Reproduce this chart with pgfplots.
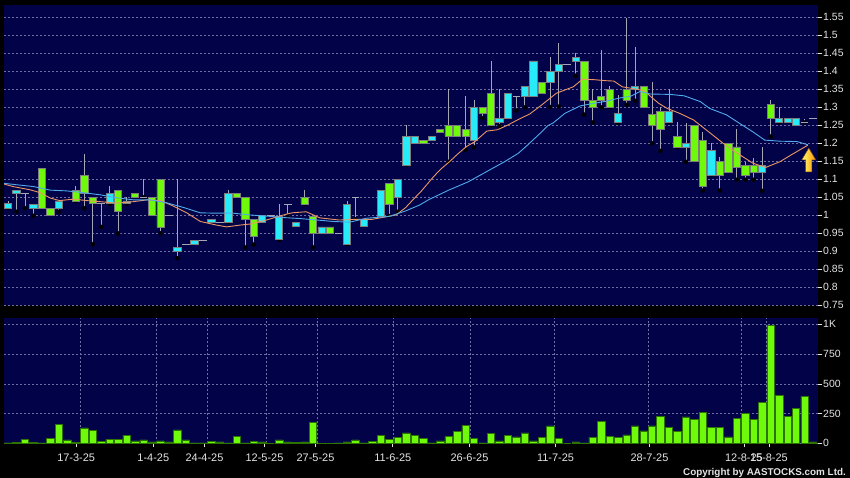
\documentclass[border=0pt]{standalone}
\usepackage{fontspec}
\setmainfont{Liberation Sans}
\usepackage{pgfplots}
\pgfplotsset{compat=1.18}
\usepackage{pgfplotstable}

\definecolor{navy}{RGB}{2,2,72}
\definecolor{gridc}{RGB}{110,110,165}
\definecolor{cyanc}{RGB}{40,235,250}
\definecolor{greenc}{RGB}{110,250,10}
\definecolor{bordc}{RGB}{125,125,125}
\definecolor{wickc}{RGB}{165,165,180}
\definecolor{maO}{RGB}{235,150,100}
\definecolor{maB}{RGB}{80,170,235}
\definecolor{labc}{RGB}{228,228,228}
\definecolor{vbord}{RGB}{45,115,0}

% candle bodies (cyan)
\pgfplotstableread{
k bl bh
0 1.019 1.031
1 1.060 1.069
3 1.019 1.029
6 1.019 1.039
12 1.031 1.060
14 1.031 1.039
20 0.899 0.910
22 0.919 0.930
24 0.980 0.988
26 0.980 1.060
30 0.980 0.998
32 0.931 0.997
34 0.969 0.980
37 0.949 0.967
40 0.919 1.030
42 0.969 0.988
44 0.997 1.069
46 1.049 1.099
47 1.139 1.218
48 1.199 1.218
50 1.208 1.219
55 1.208 1.299
58 1.258 1.269
59 1.269 1.338
61 1.329 1.358
62 1.329 1.428
64 1.368 1.398
65 1.398 1.418
67 1.427 1.438
72 1.256 1.281
74 1.349 1.356
78 1.258 1.287
80 1.188 1.199
83 1.111 1.180
89 1.119 1.137
91 1.258 1.268
92 1.258 1.268
93 1.249 1.268
}\cyanT

% candle bodies (green)
\pgfplotstableread{
k bl bh
4 1.019 1.130
5 1.000 1.019
8 1.039 1.069
9 1.060 1.111
10 1.031 1.049
13 1.009 1.068
15 1.049 1.060
17 1.000 1.049
18 0.967 1.099
27 1.049 1.060
28 0.988 1.049
29 0.941 0.988
35 1.030 1.049
36 0.949 0.997
38 0.949 0.967
45 1.030 1.088
49 1.199 1.208
51 1.229 1.238
52 1.219 1.249
53 1.219 1.249
54 1.219 1.238
56 1.281 1.299
57 1.249 1.338
63 1.338 1.368
68 1.318 1.427
69 1.299 1.318
70 1.318 1.329
71 1.299 1.349
73 1.319 1.349
75 1.299 1.356
76 1.249 1.280
77 1.239 1.287
79 1.188 1.219
81 1.148 1.249
82 1.080 1.208
84 1.111 1.148
85 1.119 1.199
86 1.131 1.189
87 1.110 1.137
88 1.119 1.137
90 1.268 1.308
}\greenT

% open = close days
\pgfplotstableread{
k p
2 1.060
11 1.031
16 1.049
19 1.000
21 0.919
23 0.930
25 0.980
31 0.998
33 1.030
39 0.949
41 1.049
60 1.329
66 1.418
94 1.257
95 1.268
}\dojiT

% wicks: low and high
\pgfplotstableread{
k lo hi
0 1.019 1.039
1 1.009 1.069
2 1.019 1.060
3 0.998 1.029
6 1.009 1.039
8 1.039 1.081
9 1.019 1.169
10 0.919 1.049
11 0.967 1.031
12 1.031 1.081
13 0.949 1.068
14 1.031 1.049
16 1.049 1.099
18 0.949 1.099
20 0.880 1.099
26 0.980 1.069
28 0.910 1.049
29 0.918 0.988
32 0.931 1.030
33 0.997 1.030
35 1.030 1.069
36 0.910 0.997
40 0.919 1.039
41 0.988 1.049
45 0.997 1.088
46 1.009 1.099
47 1.139 1.250
52 1.148 1.349
54 1.181 1.331
55 1.188 1.319
56 1.269 1.299
57 1.249 1.428
58 1.247 1.349
60 1.290 1.329
61 1.299 1.358
64 1.300 1.440
65 1.301 1.477
67 1.387 1.450
68 1.279 1.427
69 1.257 1.349
70 1.299 1.458
71 1.299 1.358
72 1.256 1.333
73 1.306 1.546
74 1.317 1.467
76 1.199 1.370
77 1.178 1.301
78 1.258 1.349
79 1.188 1.257
80 1.148 1.256
82 1.068 1.231
83 1.111 1.200
84 1.068 1.160
86 1.098 1.238
87 1.098 1.148
88 1.098 1.157
89 1.067 1.189
90 1.218 1.319
91 1.258 1.301
94 1.257 1.268
}\wickT

% short moving average (orange)
\pgfplotstableread{
k v
-0.47 1.086
0.6 1.079
2.6 1.070
3.8 1.062
5.0 1.047
6.1 1.040
7.7 1.044
9.3 1.040
10.9 1.037
12.8 1.033
14.8 1.037
16.4 1.042
18.0 1.040
19.5 1.025
21.1 1.006
22.7 0.982
24.6 0.972
25.8 0.967
27.4 0.972
28.6 0.975
30.5 0.986
32.5 1.000
33.5 1.006
35.2 1.009
36.8 0.992
39.1 0.986
41.1 0.988
43.0 0.988
44.6 0.995
45.8 1.000
46.9 1.020
47.7 1.040
48.8 1.067
50.2 1.106
51.1 1.128
52.1 1.148
53.1 1.170
54.1 1.190
55.1 1.204
56.5 1.233
57.8 1.237
59.0 1.250
60.2 1.265
61.6 1.281
63.0 1.306
64.7 1.338
66.7 1.356
67.8 1.377
69.1 1.376
70.6 1.373
71.5 1.372
72.5 1.356
73.8 1.351
75.1 1.345
75.8 1.330
76.8 1.310
77.8 1.296
79.3 1.282
80.9 1.264
82.8 1.229
84.4 1.199
86.1 1.171
87.9 1.144
89.4 1.132
91.1 1.148
92.5 1.168
94.4 1.194
}\maOT

% long moving average (blue)
\pgfplotstableread{
k v
-0.47 1.088
1.4 1.083
3.0 1.079
5.0 1.069
6.9 1.067
8.9 1.062
10.9 1.056
12.8 1.048
14.8 1.042
16.8 1.042
18.7 1.034
20.7 1.021
22.7 1.006
24.6 1.005
26.6 1.005
28.6 1.000
30.5 0.997
32.5 0.993
34.5 0.990
36.5 0.986
38.4 0.982
40.3 0.980
42.3 0.991
45.0 0.996
46.9 1.011
47.7 1.019
48.6 1.028
49.6 1.042
52.0 1.069
54.3 1.092
56.6 1.122
58.6 1.148
60.2 1.171
61.4 1.196
62.8 1.227
63.7 1.248
64.3 1.255
65.7 1.282
67.5 1.303
69.1 1.310
70.6 1.316
72.2 1.325
73.5 1.330
74.6 1.343
75.8 1.336
78.1 1.335
79.8 1.331
81.7 1.315
82.8 1.296
84.8 1.278
86.3 1.255
87.9 1.231
89.3 1.208
91.1 1.205
93.1 1.204
94.4 1.195
}\maBT

% volume
\pgfplotstableread{
k v
0 3
1 8
2 36
3 8
4 3
5 42
6 160
7 28
8 8
9 129
10 109
11 14
12 36
13 36
14 67
15 20
16 28
17 11
18 20
19 11
20 112
21 28
22 3
23 3
24 17
25 11
26 3
27 59
28 3
29 17
30 11
31 0
32 28
33 11
34 8
35 11
36 176
37 0
38 0
39 3
40 11
41 28
42 3
43 14
44 64
45 34
46 50
47 87
48 67
49 42
50 3
51 20
52 56
53 98
54 151
55 39
56 3
57 81
58 20
59 64
60 53
61 87
62 20
63 48
64 146
65 42
66 0
67 11
68 3
69 50
70 185
71 59
72 48
73 70
74 146
75 104
76 146
77 224
78 134
79 101
80 222
81 202
82 260
83 134
84 134
85 53
86 210
87 252
88 202
89 347
90 992
91 400
92 224
93 291
94 393
95 12
}\volT

\pgfplotsset{
  pricebase/.style={scale only axis, width=814bp, height=300bp,
    at={(4bp,173bp)}, anchor=south west,
    xmin=-0.47, xmax=95.59, ymin=0.75, ymax=1.5833},
}

\begin{document}
\begin{tikzpicture}
\fill[black] (0,0) rectangle (850bp,478bp);

% ---------- price panel: background, grid, wicks
\begin{axis}[pricebase,
  axis background/.style={fill=navy},
  axis line style={draw=none},
  xtick=\empty,
  minor xtick={8.5,17.5,23.5,30.5,36.5,45.5,54.5,64.5,75.5,86.5,89.5},
  xminorgrids, minor tick length=0pt,
  ytick={0.75,0.8,0.85,0.9,0.95,1,1.05,1.1,1.15,1.2,1.25,1.3,1.35,1.4,1.45,1.5,1.55},
  yticklabels={0.75,0.8,0.85,0.9,0.95,1,1.05,1.1,1.15,1.2,1.25,1.3,1.35,1.4,1.45,1.5,1.55},
  ytick pos=right, yticklabel pos=right,
  ymajorgrids,
  grid style={gridc, dash pattern=on 2bp off 2bp, line width=0.5bp},
  minor grid style={gridc, dash pattern=on 2bp off 2bp, line width=0.5bp},
  tick align=outside, major tick length=4bp,
  tick style={labc, line width=0.6bp},
  yticklabel style={font=\fontsize{10.5}{12}\selectfont, text=labc, anchor=west, inner sep=0pt, xshift=1bp},
]
\addplot[only marks, mark=none,
  error bars/.cd, y dir=plus, y explicit, error mark=none,
  error bar style={draw=wickc, line width=0.8bp}]
  table[x=k, y=lo, y error expr=\thisrow{hi}-\thisrow{lo}] {\wickT};
\end{axis}

% ---------- cyan bodies
\begin{axis}[pricebase, hide axis, ybar stacked, bar width=0.86]
\addplot[draw=none, fill=none] table[x=k, y=bl] {\cyanT};
\addplot[fill=cyanc, draw=bordc, line width=0.7bp] table[x=k, y expr=\thisrow{bh}-\thisrow{bl}] {\cyanT};
\end{axis}

% ---------- green bodies
\begin{axis}[pricebase, hide axis, ybar stacked, bar width=0.86]
\addplot[draw=none, fill=none] table[x=k, y=bl] {\greenT};
\addplot[fill=greenc, draw=bordc, line width=0.7bp] table[x=k, y expr=\thisrow{bh}-\thisrow{bl}] {\greenT};
\end{axis}

% ---------- doji, moving averages, arrow
\begin{axis}[pricebase, hide axis]
\addplot[only marks, mark=-, mark size=3.9bp, mark options={draw=wickc, line width=0.9bp}] table[x=k, y=p] {\dojiT};
\addplot[maO, line width=0.9bp, mark=none] table[x=k, y=v] {\maOT};
\addplot[maB, line width=0.9bp, mark=none] table[x=k, y=v] {\maBT};
\path[draw=brown!60!black, line width=0.5bp, left color=yellow!55!white, right color=orange!85!yellow]
  (axis cs:94.5,1.186) -- (axis cs:95.33,1.153) -- (axis cs:94.88,1.153) -- (axis cs:94.88,1.120)
  -- (axis cs:94.12,1.120) -- (axis cs:94.12,1.153) -- (axis cs:93.67,1.153) -- cycle;
\end{axis}

% ---------- volume panel
\begin{axis}[scale only axis, width=814bp, height=124.8bp,
  at={(4bp,34.7bp)}, anchor=south west,
  xmin=-0.47, xmax=95.59, ymin=0, ymax=1049,
  axis background/.style={fill=navy},
  axis line style={draw=none},
  ybar, bar width=0.88,
  xtick={8.05,17.15,23.19,30.27,36.29,45.41,54.46,64.61,75.70,86.85,89.80},
  xticklabels={17-3-25,1-4-25,24-4-25,12-5-25,27-5-25,11-6-25,26-6-25,11-7-25,28-7-25,12-8-25,15-8-25},
  minor xtick={8.5,17.5,23.5,30.5,36.5,45.5,54.5,64.5,75.5,86.5,89.5},
  xminorgrids, minor tick length=0pt,
  xtick pos=bottom, ytick pos=right, yticklabel pos=right,
  ytick={0,250,500,750,1000}, yticklabels={0,250,500,750,1K},
  ymajorgrids,
  grid style={gridc, dash pattern=on 2bp off 2bp, line width=0.5bp},
  minor grid style={gridc, dash pattern=on 2bp off 2bp, line width=0.5bp},
  tick align=outside, major tick length=4bp,
  tick style={labc, line width=0.6bp},
  yticklabel style={font=\fontsize{10.5}{12}\selectfont, text=labc, anchor=west, inner sep=0pt, xshift=1bp},
  xticklabel style={font=\fontsize{11}{13}\selectfont, text=labc, yshift=-3bp},
]
\addplot[fill=greenc, draw=vbord, line width=0.6bp] table[x=k, y=v] {\volT};
\end{axis}

\node[anchor=base east, text=labc, font=\bfseries\fontsize{9.9}{11}\selectfont, inner sep=0pt] at (846bp,3bp) {Copyright by AASTOCKS.com Ltd.};

\pgfresetboundingbox
\path[use as bounding box] (0,0) rectangle (850bp,478bp);
\end{tikzpicture}
\end{document}
